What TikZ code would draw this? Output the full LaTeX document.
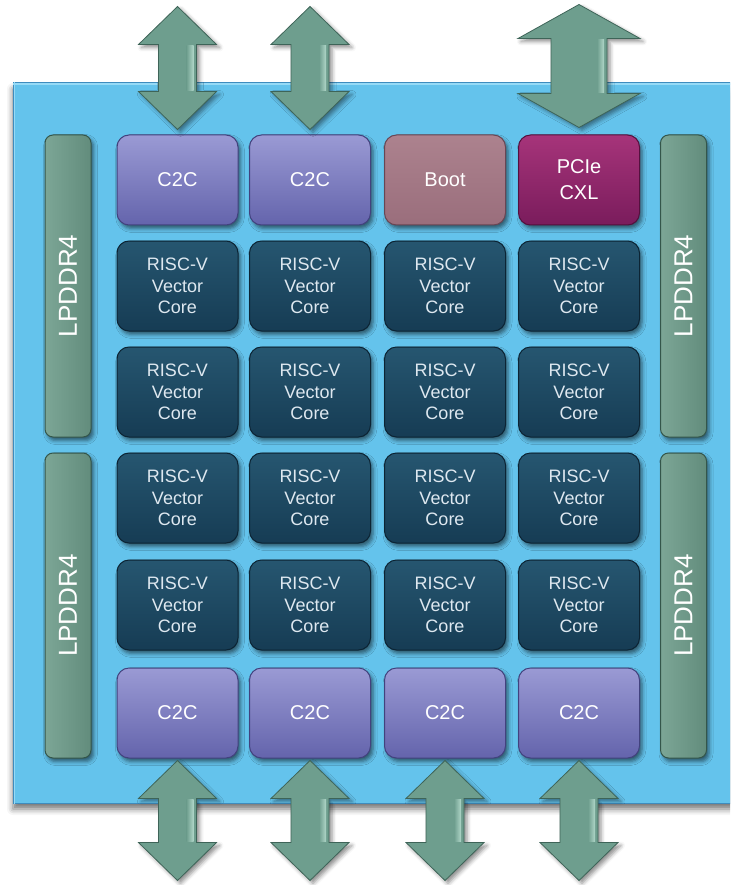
\documentclass[tikz,border=0pt]{standalone}
\usepackage{fontspec}
\setmainfont{Liberation Sans}
\usetikzlibrary{calc,shadows.blur}

% palette
\definecolor{panelFill}{RGB}{100,195,236}
\definecolor{panelHi}{RGB}{150,218,246}
\definecolor{panelEdge}{RGB}{62,140,190}
\definecolor{coreTop}{RGB}{38,86,112}
\definecolor{coreBot}{RGB}{22,60,84}
\definecolor{coreEdge}{RGB}{12,36,52}
\definecolor{coreText}{RGB}{222,232,240}
\definecolor{ctcTop}{RGB}{154,154,212}
\definecolor{ctcBot}{RGB}{100,100,172}
\definecolor{ctcEdge}{RGB}{66,66,126}
\definecolor{bootTop}{RGB}{172,130,142}
\definecolor{bootBot}{RGB}{154,110,124}
\definecolor{bootEdge}{RGB}{104,70,84}
\definecolor{pcieTop}{RGB}{166,52,122}
\definecolor{pcieBot}{RGB}{122,28,92}
\definecolor{pcieEdge}{RGB}{84,16,62}
\definecolor{lpLight}{RGB}{124,166,150}
\definecolor{lpDark}{RGB}{98,140,124}
\definecolor{lpEdge}{RGB}{52,86,74}
\definecolor{arrowFill}{RGB}{110,158,142}
\definecolor{arrowHi}{RGB}{176,214,200}
\definecolor{arrowEdge}{RGB}{62,100,88}

\tikzset{
  chipbox/.style={rectangle, inner sep=0pt, fill=panelFill, draw=panelEdge, line width=1pt,
    blur shadow={shadow xshift=0pt, shadow yshift=-6pt, shadow blur radius=6pt, shadow opacity=55}},
  blk/.style={rectangle, rounded corners=12pt, minimum width=121pt, minimum height=90pt,
    inner sep=0pt, align=center, line width=1pt,
    blur shadow={shadow xshift=2.5pt, shadow yshift=-3.5pt, shadow blur radius=4pt, shadow opacity=55}},
  ctc/.style={blk, top color=ctcTop, bottom color=ctcBot, draw=ctcEdge, text=white,
    font=\fontsize{20}{26}\selectfont},
  bootbox/.style={blk, top color=bootTop, bottom color=bootBot, draw=bootEdge, text=white,
    font=\fontsize{20}{26}\selectfont},
  pciebox/.style={blk, top color=pcieTop, bottom color=pcieBot, draw=pcieEdge, text=white,
    font=\fontsize{20}{26}\selectfont},
  core/.style={blk, top color=coreTop, bottom color=coreBot, draw=coreEdge, text=coreText,
    font=\fontsize{18}{21.7}\selectfont},
  lpbar/.style={rectangle, rounded corners=8pt, minimum width=46pt, inner sep=0pt,
    left color=lpLight, right color=lpDark, draw=lpEdge, line width=1pt,
    blur shadow={shadow xshift=2.5pt, shadow yshift=-3.5pt, shadow blur radius=4pt, shadow opacity=55}},
  lptext/.style={rotate=90, text=white, inner sep=0pt, font=\fontsize{26}{30}\selectfont},
  arrowbody/.style={fill=arrowFill, draw=arrowEdge, line width=0.8pt, line join=miter,
    blur shadow={shadow xshift=3pt, shadow yshift=-3pt, shadow blur radius=4pt, shadow opacity=45}},
  arrowstripe/.style={left color=arrowFill, right color=arrowHi, draw=none},
}

% double-headed block arrow from outer tip #1 to inner tip #2
% #3 head half width, #4 shaft half width, #5 head length
\newcommand\linkarrow[5]{%
  \path[arrowbody] let \p1=(#1), \p2=(#2), \n1={sign(\y2-\y1)} in
    (\x1,\y1) -- ({\x1+#3pt},{\y1+\n1*#5pt}) -- ({\x1+#4pt},{\y1+\n1*#5pt})
    -- ({\x1+#4pt},{\y2-\n1*#5pt}) -- ({\x1+#3pt},{\y2-\n1*#5pt}) -- (\x1,\y2)
    -- ({\x1-#3pt},{\y2-\n1*#5pt}) -- ({\x1-#4pt},{\y2-\n1*#5pt})
    -- ({\x1-#4pt},{\y1+\n1*#5pt}) -- ({\x1-#3pt},{\y1+\n1*#5pt}) -- cycle;
  \path[arrowstripe] let \p1=(#1), \p2=(#2), \n1={sign(\y2-\y1)} in
    ({\x1+#4pt-10pt},{\y1+\n1*(#5pt+1pt)}) rectangle ({\x1+#4pt-3pt},{\y2-\n1*(#5pt+1pt)});
}

\begin{document}
\begin{tikzpicture}[x=1pt,y=-1pt]
\useasboundingbox (0,0) rectangle (730,885);
\clip (0,0) rectangle (730,885);

% chip substrate
\node[chipbox, minimum width=727pt, minimum height=720pt] (chip) at (376.5,443) {};
\draw[panelHi, line width=2pt] ([yshift=-2pt]chip.north west) -- ([yshift=-2pt]chip.north east);
\draw[panelHi, line width=1.5pt] ([xshift=2pt]chip.north west) -- ([xshift=2pt]chip.south west);

% memory controllers
\node[lpbar, minimum height=302pt] (lpL1) at (68,286) {};
\node[lpbar, minimum height=305pt] (lpL2) at (68,605.5) {};
\node[lpbar, minimum height=302pt] (lpR1) at (683.5,286) {};
\node[lpbar, minimum height=305pt] (lpR2) at (683.5,605.5) {};
\node[lptext] (lpL1t) at (lpL1) {LPDDR4};
\node[lptext] (lpL2t) at (lpL2) {LPDDR4};
\node[lptext] (lpR1t) at (lpR1) {LPDDR4};
\node[lptext] (lpR2t) at (lpR2) {LPDDR4};

% top row
\node[ctc] (t1) at (177.5,180) {C2C};
\node[ctc] (t2) at (310,180) {C2C};
\node[bootbox] (t3) at (445,180) {Boot};
\node[pciebox] (t4) at (579,180) {PCIe\\CXL};

% vector core array
\foreach \r/\y in {1/286,2/392,3/498,4/605}
  \foreach \c/\x in {1/177.5,2/310,3/445,4/579}
    \node[core] (k\r\c) at (\x,\y) {RISC-V\\Vector\\Core};

% bottom row
\node[ctc] (b1) at (177.5,713) {C2C};
\node[ctc] (b2) at (310,713) {C2C};
\node[ctc] (b3) at (445,713) {C2C};
\node[ctc] (b4) at (579,713) {C2C};

% off-chip links, top
\coordinate (oT1) at ($(t1.north)+(0,-128)$);
\coordinate (iT1) at ($(t1.north)+(0,-5)$);
\coordinate (oT2) at ($(t2.north)+(0,-128)$);
\coordinate (iT2) at ($(t2.north)+(0,-5)$);
\coordinate (oT4) at ($(t4.north)+(0,-130)$);
\coordinate (iT4) at ($(t4.north)+(0,-7)$);
\linkarrow{oT1}{iT1}{39}{19}{38}
\linkarrow{oT2}{iT2}{39}{19}{38}
\linkarrow{oT4}{iT4}{61}{28}{34}

% off-chip links, bottom
\foreach \b in {b1,b2,b3,b4}{
  \coordinate (o\b) at ($(\b.south)+(0,122)$);
  \coordinate (i\b) at ($(\b.south)+(0,2)$);
  \linkarrow{o\b}{i\b}{39}{19}{38}
}
\end{tikzpicture}
\end{document}
